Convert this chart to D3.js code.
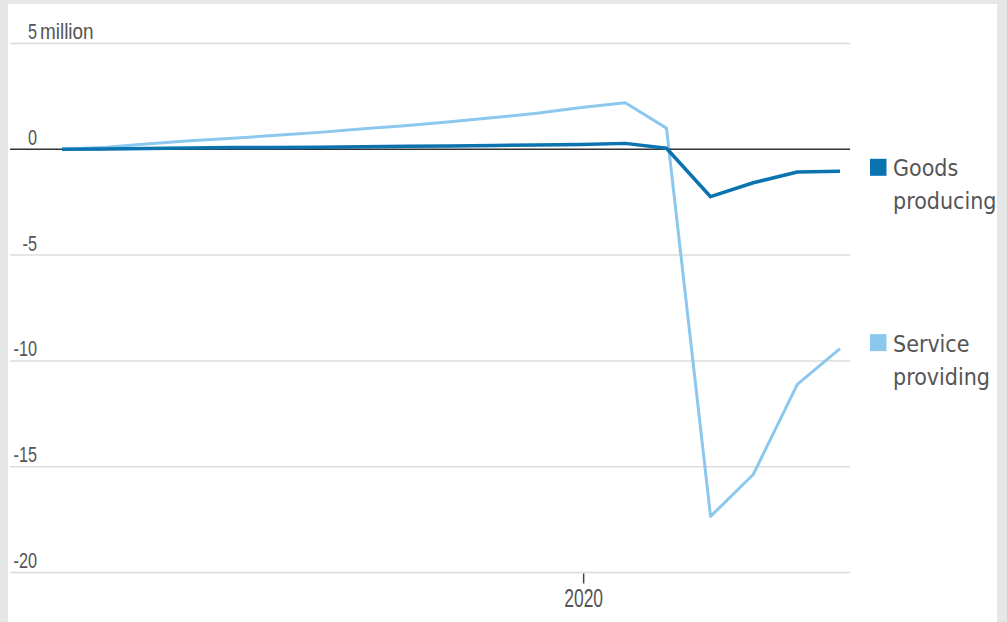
<!DOCTYPE html>
<html>
<head>
<meta charset="utf-8">
<script src="https://cdn.jsdelivr.net/npm/d3@7/dist/d3.min.js"></script>
<style>
  html, body { margin: 0; padding: 0; background: #e6e6e6; }
  #chart { position: absolute; left: 8px; top: 4px; width: 989px; height: 618px; background: #fff; }
  text { font-family: "DejaVu Sans Condensed", "DejaVu Sans", sans-serif; fill: #555; }
  .num { font-family: "Liberation Sans", Arial, sans-serif; }
</style>
</head>
<body>
<div id="chart"></div>
<script>
// monthly change in employment since Jan 2019, millions
var months = ["2019-01","2019-02","2019-03","2019-04","2019-05","2019-06","2019-07","2019-08","2019-09","2019-10",
              "2019-11","2019-12","2020-01","2020-02","2020-03","2020-04","2020-05","2020-06","2020-07"];
var goodsValues = [0, 0.02, 0.04, 0.06, 0.08, 0.09, 0.1, 0.12, 0.14, 0.16, 0.18, 0.2, 0.23, 0.28, 0.05, -2.24, -1.58, -1.07, -1.04];
var serviceValues = [0, 0.1, 0.25, 0.4, 0.52, 0.66, 0.8, 0.97, 1.12, 1.3, 1.5, 1.7, 1.98, 2.2, 1.0, -17.35, -15.37, -11.11, -9.42];
var yTicks = [5, 0, -5, -10, -15, -20];
var xTicks = ["2020-01"];
var seriesNames = [["Goods", "producing"], ["Service", "providing"]];
var seriesColors = ["#0a73b0", "#8cc8ee"];

var parseMonth = d3.timeParse("%Y-%m");
var width = 989, height = 618;
// panel is offset by (8,4) in the page
var ox = 8, oy = 4;

var svg = d3.select("#chart").append("svg")
    .attr("width", width)
    .attr("height", height);

var x = d3.scaleTime()
    .domain([parseMonth(months[0]), parseMonth(months[months.length - 1])])
    .range([62 - ox, 840 - ox]);

var y = d3.scaleLinear()
    .domain([-20, 5])
    .range([572.5 - oy, 43.5 - oy]);

var gridLeft = 10 - ox, gridRight = 850 - ox;

// narrow numerals: squeeze the glyphs horizontally
function narrow(px, py, sx) {
    return "translate(" + px + "," + py + ") scale(" + sx + ",1)";
}

// gridlines
svg.append("g").selectAll("line")
    .data(yTicks.filter(function (d) { return d !== 0; }))
    .enter().append("line")
    .attr("x1", gridLeft)
    .attr("x2", gridRight)
    .attr("y1", function (d) { return y(d); })
    .attr("y2", function (d) { return y(d); })
    .attr("stroke", "#dcdcdc")
    .attr("stroke-width", 1.5);

// y labels, right aligned just above the line
svg.append("g").selectAll("text")
    .data(yTicks)
    .enter().append("text")
    .attr("class", "num")
    .attr("transform", function (d) { return narrow(37 - ox, y(d) - 4.5, 0.74); })
    .attr("text-anchor", "end")
    .attr("font-size", "22px")
    .text(function (d) { return d; });

svg.append("text")
    .attr("class", "num")
    .attr("transform", narrow(40 - ox, y(5) - 4.5, 0.86))
    .attr("font-size", "22px")
    .text("million");

// x axis
var xAxis = d3.axisBottom(x)
    .tickValues(xTicks.map(parseMonth))
    .tickSize(10)
    .tickFormat(d3.timeFormat("%Y"));

var gx = svg.append("g")
    .attr("transform", "translate(0," + (y(-20) + 1) + ")")
    .call(xAxis);
gx.select(".domain").remove();
gx.selectAll(".tick line").attr("stroke", "#444").attr("stroke-width", 1.5).attr("x1", 2).attr("x2", 2);
gx.selectAll(".tick text")
    .attr("class", "num")
    .attr("font-size", "25px")
    .attr("font-family", null)
    .attr("fill", "#555")
    .attr("y", null)
    .attr("dy", null)
    .attr("transform", narrow(2, 33.5, 0.7));

var line = d3.line()
    .x(function (d) { return x(parseMonth(d.m)); })
    .y(function (d) { return y(d.v); });

function toPoints(values) {
    return months.map(function (m, i) { return { m: m, v: values[i] }; });
}

// service first, goods on top
svg.append("path")
    .datum(toPoints(serviceValues))
    .attr("fill", "none")
    .attr("stroke", seriesColors[1])
    .attr("stroke-width", 3)
    .attr("stroke-linejoin", "round")
    .attr("d", line);

// zero line
svg.append("line")
    .attr("x1", gridLeft)
    .attr("x2", gridRight)
    .attr("y1", y(0))
    .attr("y2", y(0))
    .attr("stroke", "#333")
    .attr("stroke-width", 1.5);

svg.append("path")
    .datum(toPoints(goodsValues))
    .attr("fill", "none")
    .attr("stroke", seriesColors[0])
    .attr("stroke-width", 3.5)
    .attr("stroke-linejoin", "round")
    .attr("d", line);

// legend next to the last value of each series
var lastValues = [goodsValues[goodsValues.length - 1], serviceValues[serviceValues.length - 1]];
var legendOffsets = [-4, -6];
var legend = svg.append("g").selectAll("g")
    .data(seriesNames)
    .enter().append("g")
    .attr("transform", function (d, i) {
        return "translate(" + (870 - ox) + "," + (y(lastValues[i]) + legendOffsets[i]) + ")";
    });

legend.append("rect")
    .attr("x", 0)
    .attr("y", -8.5)
    .attr("width", 16.5)
    .attr("height", 17)
    .attr("fill", function (d, i) { return seriesColors[i]; });

legend.append("text")
    .attr("x", 23)
    .attr("y", 9)
    .attr("font-size", "23px")
    .text(function (d) { return d[0]; });

legend.append("text")
    .attr("x", 23)
    .attr("y", 42)
    .attr("font-size", "23px")
    .text(function (d) { return d[1]; });
</script>
</body>
</html>
